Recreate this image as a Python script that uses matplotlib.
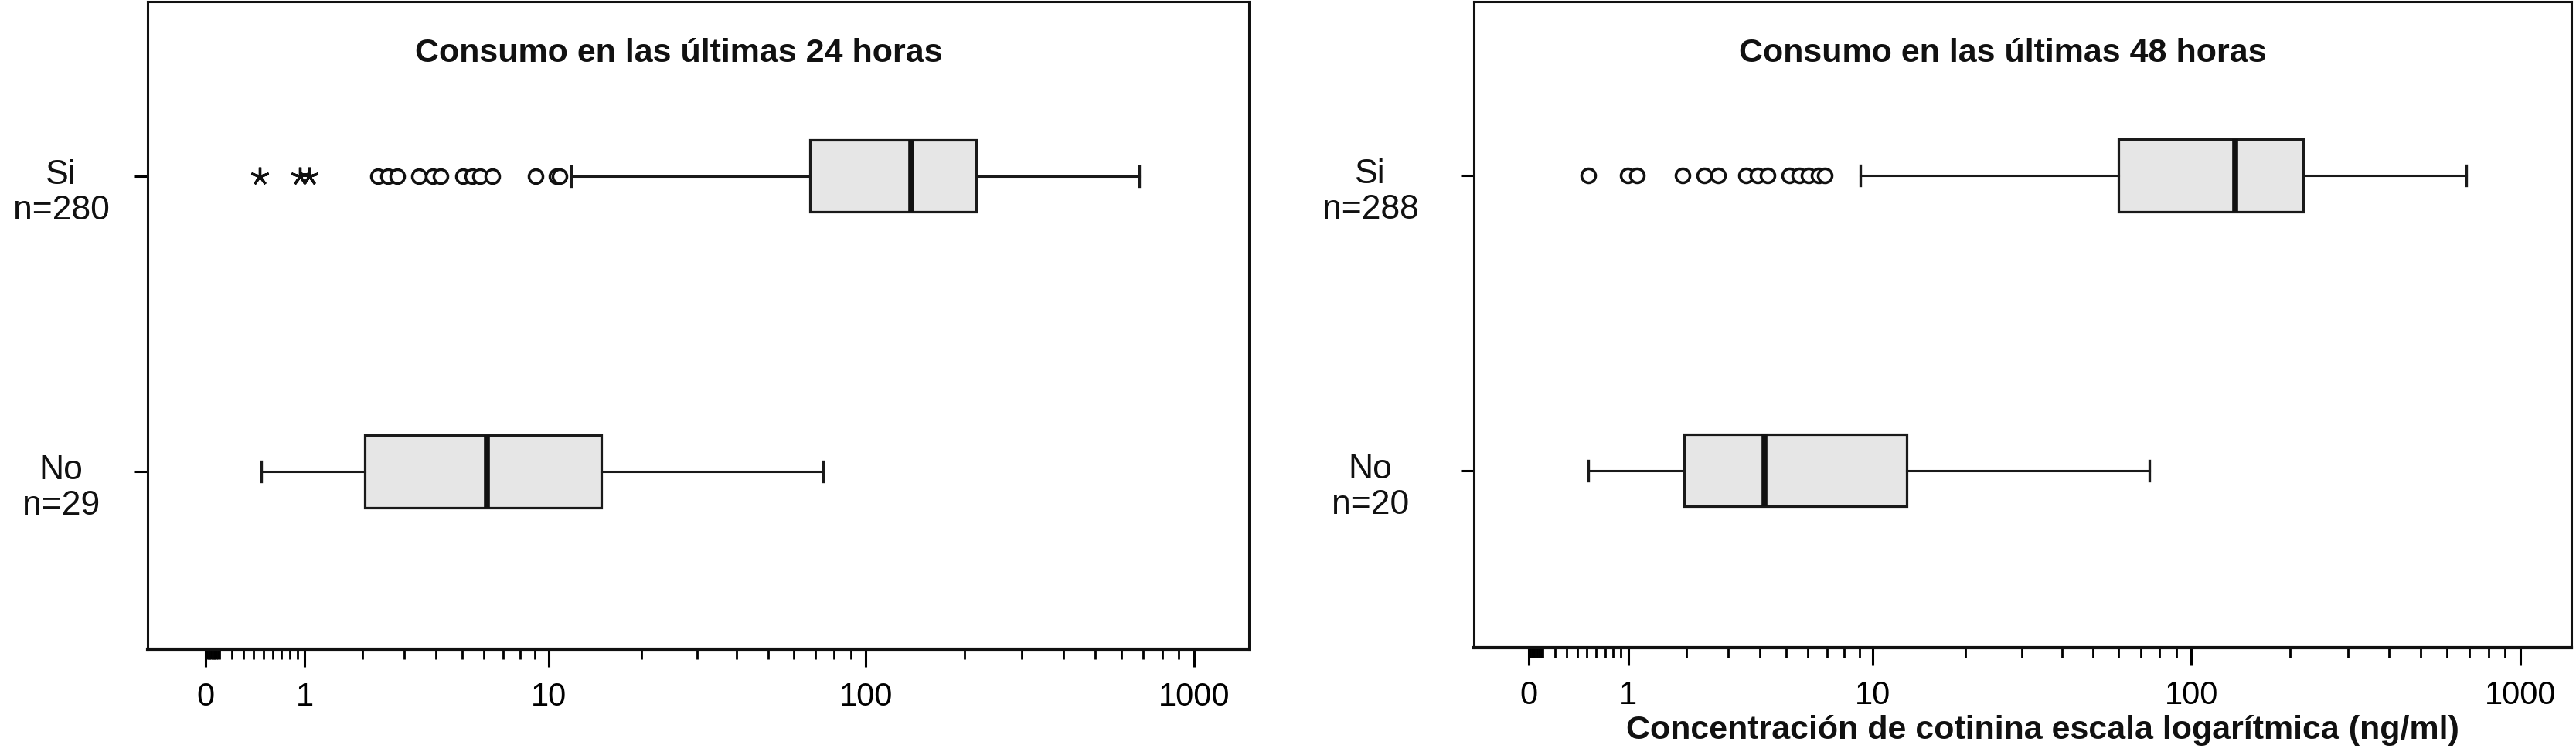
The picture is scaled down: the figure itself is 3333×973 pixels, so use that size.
import numpy as np
import matplotlib
matplotlib.use("Agg")
import matplotlib.pyplot as plt
from matplotlib.ticker import FixedLocator, NullFormatter

# ---- data (ng/ml) ----
groups = ["No", "Si"]
titles = ["Consumo en las últimas 24 horas", "Consumo en las últimas 48 horas"]
n_24 = [29, 280]
n_48 = [20, 288]

# order: No, Si
whislo_24 = [0.476, 11.85]
q1_24 = [2.04, 67.3]
med_24 = [6.14, 137.6]
q3_24 = [14.9, 217.0]
whishi_24 = [73.8, 681.0]
circ_24_si = [2.33, 2.57, 2.82, 3.45, 3.90, 4.18, 5.03, 5.45, 5.82, 6.41, 9.03, 10.6, 10.9]
star_24_si = [0.457, 0.93, 1.06]

whislo_48 = [0.514, 9.05]
q1_48 = [1.95, 59.8]
med_48 = [4.16, 136.0]
q3_48 = [12.9, 219.0]
whishi_48 = [74.4, 685.0]
circ_48_si = [0.51, 0.99, 1.12, 1.92, 2.40, 2.74, 3.53, 3.92, 4.27, 5.13, 5.57, 6.03, 6.53, 6.85]
star_48_si = []

xticks = [0, 1, 10, 100, 1000]
xticklabels = ["0", "1", "10", "100", "1000"]
minor = ([i / 100 for i in range(1, 10)] + [i / 10 for i in range(1, 10)] +
         list(range(2, 10)) + list(range(20, 100, 10)) + list(range(200, 1000, 100)))

NARROW = ["Liberation Sans Narrow", "Liberation Sans", "DejaVu Sans"]
REG = ["Liberation Sans", "DejaVu Sans"]


def fwd(x):
    return np.log10(np.clip(np.asarray(x, dtype=float) + 1, 1e-6, None))


def inv(u):
    return 10 ** np.asarray(u, dtype=float) - 1


fig = plt.figure(figsize=(33.33, 9.73), dpi=100)
ax1 = fig.add_axes([0.0573, 0.1367, 0.4275, 0.8613])
ax2 = fig.add_axes([0.5722, 0.1388, 0.4260, 0.8592])

panels = [
    (ax1, titles[0], n_24, whislo_24, q1_24, med_24, q3_24, whishi_24, circ_24_si, star_24_si, (-0.333, 1467), -0.0786),
    (ax2, titles[1], n_48, whislo_48, q1_48, med_48, q3_48, whishi_48, circ_48_si, star_48_si, (-0.318, 1428), -0.0944),
]

for ax, title, ns, wlo, q1, med, q3, whi, circ, star, xlim, labx in panels:
    ax.set_xscale("function", functions=(fwd, inv))
    stats = []
    for i in range(2):
        stats.append(dict(whislo=wlo[i], q1=q1[i], med=med[i], q3=q3[i], whishi=whi[i],
                          fliers=np.array(circ if i == 1 else [])))
    ax.bxp(stats, positions=[1, 2], widths=0.245, orientation="horizontal",
           patch_artist=True, manage_ticks=False, capwidths=0.068,
           boxprops=dict(facecolor="#e6e6e6", edgecolor="#1a1a1a", linewidth=2.3),
           medianprops=dict(color="#111111", linewidth=5.5, solid_capstyle="butt"),
           whiskerprops=dict(color="#1a1a1a", linewidth=2.2),
           capprops=dict(color="#1a1a1a", linewidth=2.4),
           flierprops=dict(marker="o", markerfacecolor="white", markeredgecolor="#111111",
                           markersize=13, markeredgewidth=2.5))
    if star:
        ax.plot(star, [2] * len(star), linestyle="none", marker=(5, 2, 0),
                markersize=17, markeredgewidth=2.4, color="#111111")

    ax.set_xlim(*xlim)
    ax.set_ylim(0.399, 2.59)

    ax.xaxis.set_major_locator(FixedLocator(xticks))
    ax.set_xticklabels(xticklabels, fontsize=30, family=NARROW)
    ax.xaxis.set_minor_locator(FixedLocator(minor))
    ax.xaxis.set_minor_formatter(NullFormatter())
    ax.tick_params(axis="x", which="major", length=16.5, width=2.2, pad=14, direction="out")
    ax.tick_params(axis="x", which="minor", length=9, width=2.0, direction="out")

    ax.set_yticks([1, 2])
    ax.set_yticklabels([])
    ax.tick_params(axis="y", length=12, width=2.2, direction="out")

    for s in ax.spines.values():
        s.set_linewidth(2.2)
        s.set_color("#111111")
    ax.spines["bottom"].set_linewidth(3)

    for pos, name, n in zip([1, 2], groups, ns):
        ax.annotate(name, xy=(labx, pos), xycoords=("axes fraction", "data"),
                    xytext=(0, 1), textcoords="offset points",
                    ha="center", va="center", fontsize=32, family=REG, color="#111111",
                    annotation_clip=False)
        ax.annotate(f"n={n}", xy=(labx, pos), xycoords=("axes fraction", "data"),
                    xytext=(0, -32), textcoords="offset points",
                    ha="center", va="center", fontsize=32, family=REG, color="#111111",
                    annotation_clip=False)

    ax.text(0.482, 0.92, title, transform=ax.transAxes, ha="center", va="center",
            fontsize=31, fontweight="bold", family=NARROW, color="#111111")

fig.text(0.793, 0.0285, "Concentración de cotinina escala logarítmica (ng/ml)",
         ha="center", va="center", fontsize=31, fontweight="bold", family=NARROW,
         color="#111111")

fig.savefig("out.png", dpi=100)
